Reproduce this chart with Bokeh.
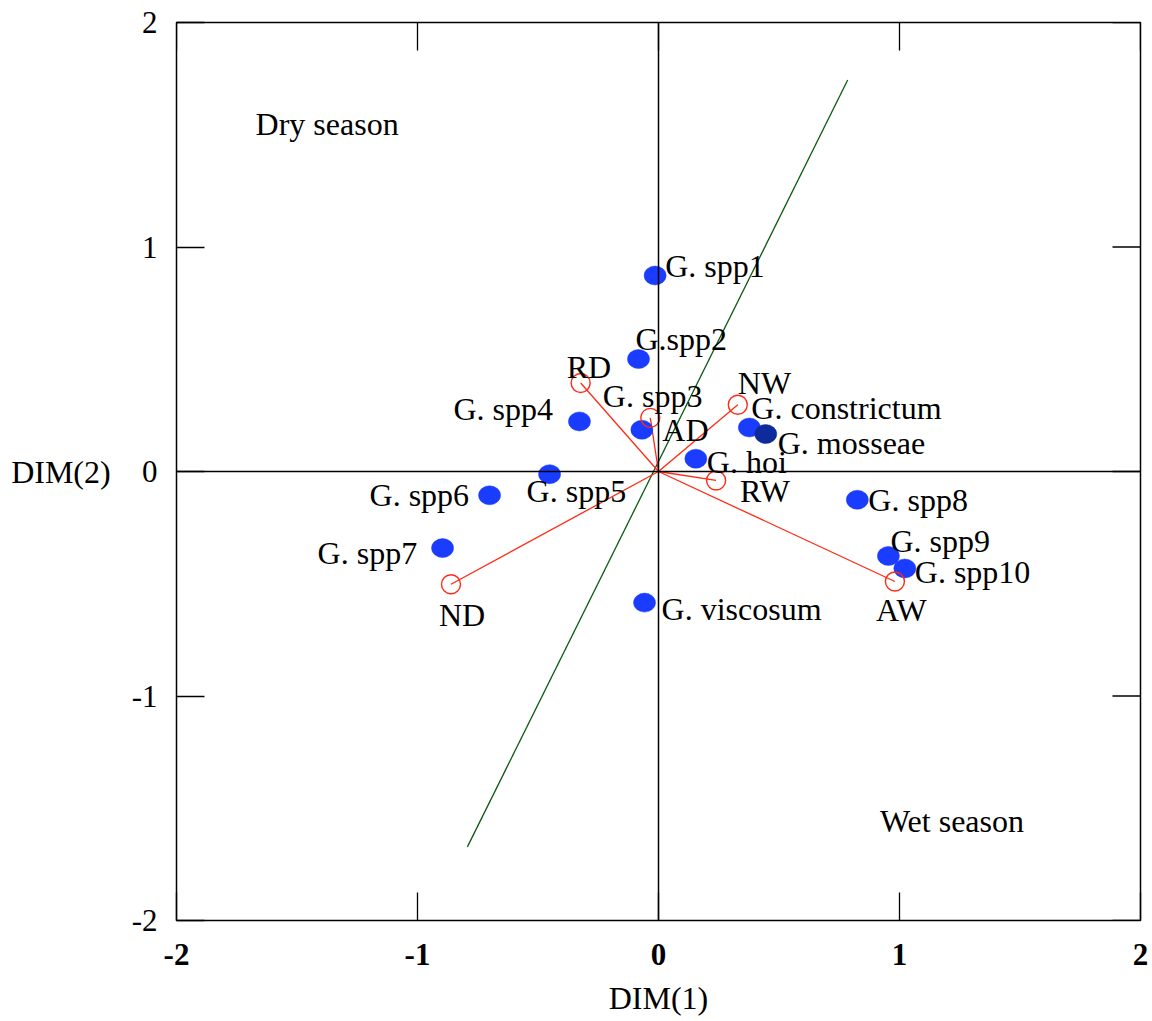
import math
from bokeh.plotting import figure
from bokeh.models import Range1d, LinearAxis, FixedTicker, Span, ColumnDataSource
from bokeh.core.properties import value
from bokeh.embed import file_html
from bokeh.resources import INLINE

# ---- data ----
species = ["G. spp1", "G.spp2", "G. spp3", "G. spp4", "G. spp5", "G. spp6", "G. spp7",
           "G. viscosum", "G. hoi", "G. constrictum", "G. mosseae", "G. spp8", "G. spp9", "G. spp10"]
sp_dim1 = [-0.014, -0.083, -0.069, -0.328, -0.452, -0.701, -0.896,
           -0.058, 0.155, 0.377, 0.445, 0.825, 0.954, 1.022]
sp_dim2 = [0.873, 0.501, 0.186, 0.223, -0.012, -0.106, -0.341,
           -0.584, 0.057, 0.196, 0.167, -0.126, -0.376, -0.432]

env = ["RD", "AD", "NW", "RW", "ND", "AW"]
env_dim1 = [-0.323, -0.034, 0.329, 0.239, -0.861, 0.981]
env_dim2 = [0.394, 0.239, 0.297, -0.040, -0.502, -0.490]

axis_line_dim1 = [-0.793, 0.785]
axis_line_dim2 = [-1.672, 1.744]

season_labels = ["Dry season", "Wet season"]
season_dim1 = [-1.672, 0.919]
season_dim2 = [1.549, -1.556]

tick_values = [-2, -1, 0, 1, 2]
tick_labels = ["-2", "-1", "0", "1", "2"]

# ---- styles ----
FONT = "Liberation Serif"
FS = "32px"
BLUE = "#1a3cff"
DARK_BLUE = "#0f2a9a"
RED = "#ff2a14"
GREEN = "#0b5a12"
TICK_LEN = 28

# label offsets in screen pixels (dx, dy) relative to each mark
sp_dx = [10, -3, -39, -126, -23, -120, -125, 17, 11, 2, 12, 11, 2, 10]
sp_dy = [-10, -20, -34, -12, 17, 0, 5, 6, 3, -19, 9, 0, -15, 4]
env_dx = [-14, 12, 0, 24, -12, -19]
env_dy = [-16, 12, -22, 11, 31, 28]

p = figure(frame_width=964, frame_height=898,
           x_range=Range1d(-2, 2), y_range=Range1d(-2, 2),
           output_backend="svg", toolbar_location=None,
           x_axis_location=None, y_axis_location=None,
           min_border_left=176, min_border_top=22, min_border_right=10, min_border_bottom=80)
p.grid.visible = False
p.outline_line_color = "black"
p.outline_line_width = 1.5
p.background_fill_color = "white"
p.border_fill_color = "white"

ticker = FixedTicker(ticks=tick_values)
overrides = {v: s for v, s in zip(tick_values, tick_labels)}


def make_axis(label):
    ax = LinearAxis(ticker=ticker)
    ax.axis_line_color = None
    ax.major_tick_in = TICK_LEN
    ax.major_tick_out = 0
    ax.major_tick_line_width = 1.3
    ax.minor_tick_line_color = None
    ax.major_label_overrides = overrides
    ax.major_label_text_font = FONT
    ax.major_label_text_font_size = "31px"
    ax.major_label_text_color = "black"
    ax.axis_label = label
    ax.axis_label_text_font = FONT
    ax.axis_label_text_font_size = FS
    ax.axis_label_text_font_style = "normal"
    ax.axis_label_text_color = "black"
    return ax


xb = make_axis("DIM(1)")
xb.major_label_text_font_style = "bold"
xb.major_label_standoff = 23
xb.axis_label_standoff = 12
p.add_layout(xb, "below")

yl = make_axis("DIM(2)")
yl.major_label_standoff = 19
yl.axis_label_standoff = 18
yl.axis_label_orientation = "horizontal"
p.add_layout(yl, "left")

# ticks on the top and right frame edges
top_y = [p.y_range.end] * len(tick_values)
right_x = [p.x_range.end] * len(tick_values)
p.ray(x=tick_values, y=top_y, length=TICK_LEN, length_units="screen", angle=-math.pi / 2,
      line_color="black", line_width=1.3)
p.ray(x=right_x, y=tick_values, length=TICK_LEN, length_units="screen", angle=math.pi,
      line_color="black", line_width=1.3)

p.add_layout(Span(location=0, dimension="width", line_color="black", line_width=1.5))
p.add_layout(Span(location=0, dimension="height", line_color="black", line_width=1.5))

# green axis line
p.line(axis_line_dim1, axis_line_dim2, line_color=GREEN, line_width=1.3)

# environmental vectors
env_src = ColumnDataSource(dict(x=env_dim1, y=env_dim2, name=env, dx=env_dx, dy=env_dy,
                                x0=[0] * len(env), y0=[0] * len(env)))
p.segment(x0="x0", y0="y0", x1="x", y1="y", source=env_src, line_color=RED, line_width=1.3)

# species points
sp_colors = [DARK_BLUE if n == "G. mosseae" else BLUE for n in species]
sp_src = ColumnDataSource(dict(x=sp_dim1, y=sp_dim2, name=species, dx=sp_dx, dy=sp_dy, c=sp_colors))
p.ellipse(x="x", y="y", width=22, height=19, width_units="screen", height_units="screen",
          fill_color="c", line_color="c", line_width=0.5, source=sp_src)

p.scatter(x="x", y="y", source=env_src, marker="circle", size=19,
          fill_color=None, line_color=RED, line_width=1.4)

p.text(x="x", y="y", text="name", x_offset="dx", y_offset="dy", source=sp_src,
       text_font=value(FONT), text_font_size=FS, text_align="left", text_baseline="middle",
       text_color="black")
p.text(x="x", y="y", text="name", x_offset="dx", y_offset="dy", source=env_src,
       text_font=value(FONT), text_font_size=FS, text_align="left", text_baseline="middle",
       text_color="black")

p.text(x=season_dim1, y=season_dim2, text=season_labels,
       text_font=value(FONT), text_font_size=FS, text_align="left", text_baseline="middle",
       text_color="black")

open("out.html", "w").write(file_html(p, INLINE))
